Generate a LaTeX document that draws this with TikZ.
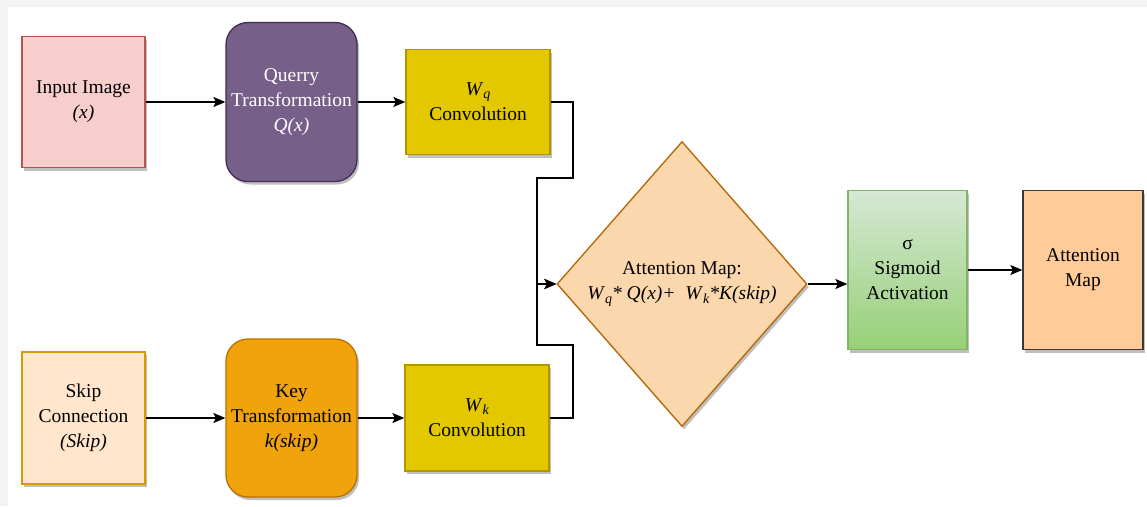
\documentclass[tikz,border=0pt]{standalone}
\usepackage{fontspec}
\setmainfont{Liberation Serif}
\usetikzlibrary{shapes.geometric,arrows.meta,shadows}
\definecolor{pinkf}{HTML}{F8CECC}\definecolor{pinks}{HTML}{B85450}
\definecolor{purpf}{HTML}{76608A}\definecolor{purps}{HTML}{432D57}
\definecolor{yelf}{HTML}{E3C800}\definecolor{yels}{HTML}{B09500}
\definecolor{peachf}{HTML}{FFE6CC}\definecolor{peachs}{HTML}{D79B00}
\definecolor{orf}{HTML}{F0A30A}\definecolor{ors}{HTML}{BD7000}
\definecolor{diaf}{HTML}{FAD7AC}\definecolor{dias}{HTML}{B46504}
\definecolor{grt}{HTML}{D5E8D4}\definecolor{grb}{HTML}{97D077}\definecolor{grs}{HTML}{82B366}
\definecolor{amf}{HTML}{FFCC99}\definecolor{ams}{HTML}{36393D}
\definecolor{bggray}{HTML}{F4F4F4}
\newcommand{\sub}[1]{\raisebox{-0.35ex}{\fontsize{14}{14}\selectfont\textit{#1}}}
\begin{document}
\begin{tikzpicture}[x=1pt,y=-1pt,
  every node/.style={font=\fontsize{19.5}{25}\selectfont, align=center, inner sep=0pt},
  box/.style={draw, line width=1.3pt, drop shadow={shadow xshift=2pt,shadow yshift=-3pt,opacity=0.25,fill=black}},
  rbox/.style={box, rounded corners=22pt},
  arr/.style={draw, line width=1.8pt, -{Stealth[length=12pt,width=10pt,inset=2.5pt]}}]
\fill[bggray] (0,0) rectangle (1147,506);
\fill[white] (8,7) rectangle (1147,506);
\useasboundingbox (0,0) rectangle (1147,506);

\node[box, fill=pinkf, draw=pinks, minimum width=123pt, minimum height=131pt] (inp) at (83.5,102) {Input Image\\\textit{(x)}};
\node[rbox, fill=purpf, draw=purps, text=white, minimum width=131pt, minimum height=159pt] (qt) at (291.5,102) {Querry\\Transformation\\\textit{Q(x)}};
\node[box, fill=yelf, draw=yels, minimum width=144pt, minimum height=105pt] (wq) at (478,102) {\textit{W}\sub{q}\\Convolution};

\node[box, fill=peachf, draw=peachs, minimum width=123pt, minimum height=132pt] (skip) at (83.5,418) {Skip\\Connection\\\textit{(Skip)}};
\node[rbox, fill=orf, draw=ors, minimum width=131pt, minimum height=158pt] (kt) at (291.5,418) {Key\\Transformation\\\textit{k(skip)}};
\node[box, fill=yelf, draw=yels, minimum width=144pt, minimum height=106pt] (wk) at (477,418) {\textit{W}\sub{k}\\Convolution};

\node[box, diamond, fill=diaf, draw=dias, minimum width=250pt, minimum height=285pt] (att) at (682,284) {Attention Map:\\\textit{W}\sub{q}\textit{* Q(x)+\ \ W}\sub{k}\textit{*K(skip)}};

\node[box, draw=grs, top color=grt, bottom color=grb, minimum width=119pt, minimum height=159pt] (sig) at (907.5,270) {σ\\Sigmoid\\Activation};
\node[box, fill=amf, draw=ams, minimum width=120pt, minimum height=159pt] (am) at (1083,270) {Attention\\Map};

\coordinate (j) at (537,284);
\coordinate (r1) at (573,178);
\coordinate (r2) at (573,345);

\draw[arr] (inp) -- (qt);
\draw[arr] (qt) -- (wq);
\draw[arr] (skip) -- (kt);
\draw[arr] (kt) -- (wk);
\draw[arr] (wq.east) -| (r1) -| (j) -- (att.west);
\draw[arr] (wk.east) -| (r2) -| (j) -- (att.west);
\draw[arr] (att.east) -- (sig.west |- att.east);
\draw[arr] (sig.east) -- (am.west);
\end{tikzpicture}
\end{document}
